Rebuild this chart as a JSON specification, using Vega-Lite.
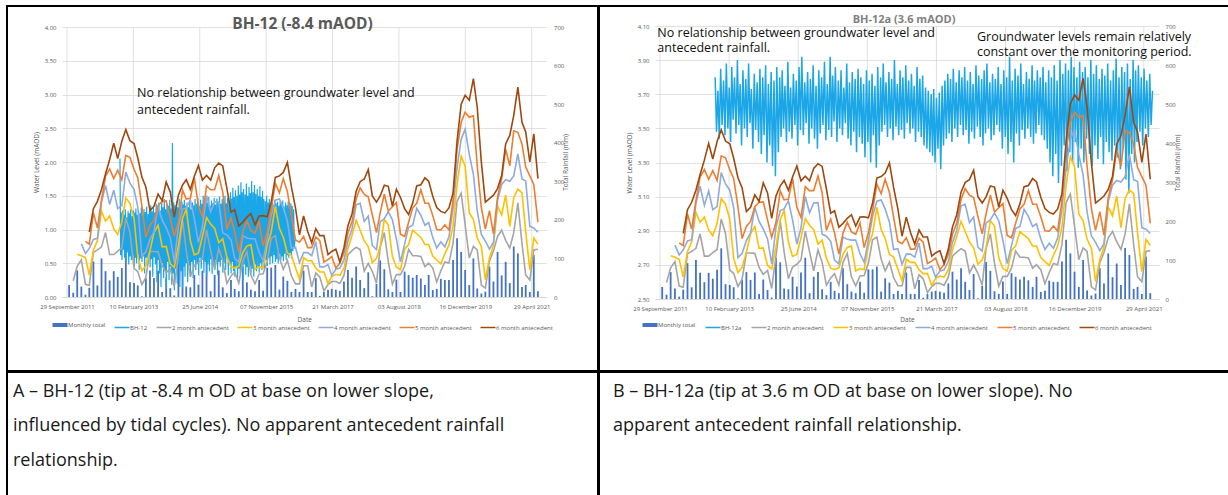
{
"$schema": "https://vega.github.io/schema/vega-lite/v6.json",
"background": "white",
"padding": {"left": 6, "top": 5, "right": 0, "bottom": 0},
"config": {"font": "Open Sans", "view": {"stroke": null}},
"datasets": {
"ticks": [{"d":"2011-09-29"},{"d":"2013-02-10"},{"d":"2014-06-25"},{"d":"2015-11-07"},{"d":"2017-03-21"},{"d":"2018-08-03"},{"d":"2019-12-16"},{"d":"2021-04-29"}],
"rain": [
{"d":"2011-10-15","m":31},
{"d":"2011-11-15","m":11,"a2":42},
{"d":"2011-12-15","m":69,"a2":80,"a3":111},
{"d":"2012-01-15","m":27,"a2":96,"a3":107,"a4":138},
{"d":"2012-02-15","m":6,"a2":33,"a3":102,"a4":113,"a5":144},
{"d":"2012-03-15","m":24,"a2":30,"a3":57,"a4":126,"a5":137,"a6":168},
{"d":"2012-04-15","m":92,"a2":116,"a3":122,"a4":149,"a5":218,"a6":229},
{"d":"2012-05-15","m":30,"a2":122,"a3":146,"a4":152,"a5":179,"a6":248},
{"d":"2012-06-15","m":100,"a2":130,"a3":222,"a4":246,"a5":252,"a6":279},
{"d":"2012-07-15","m":67,"a2":167,"a3":197,"a4":289,"a5":313,"a6":319},
{"d":"2012-08-15","m":43,"a2":110,"a3":210,"a4":240,"a5":332,"a6":356},
{"d":"2012-09-15","m":67,"a2":110,"a3":177,"a4":277,"a5":307,"a6":399},
{"d":"2012-10-15","m":52,"a2":119,"a3":162,"a4":229,"a5":329,"a6":359},
{"d":"2012-11-15","m":75,"a2":127,"a3":194,"a4":237,"a5":304,"a6":404},
{"d":"2012-12-15","m":130,"a2":205,"a3":257,"a4":324,"a5":367,"a6":434},
{"d":"2013-01-15","m":38,"a2":168,"a3":243,"a4":295,"a5":362,"a6":405},
{"d":"2013-02-15","m":36,"a2":74,"a3":204,"a4":279,"a5":331,"a6":398},
{"d":"2013-03-15","m":30,"a2":66,"a3":104,"a4":234,"a5":309,"a6":361},
{"d":"2013-04-15","m":2,"a2":32,"a3":68,"a4":106,"a5":236,"a6":311},
{"d":"2013-05-15","m":49,"a2":51,"a3":81,"a4":117,"a5":155,"a6":285},
{"d":"2013-06-15","m":69,"a2":118,"a3":120,"a4":150,"a5":186,"a6":224},
{"d":"2013-07-15","m":49,"a2":118,"a3":167,"a4":169,"a5":199,"a6":235},
{"d":"2013-08-15","m":68,"a2":117,"a3":186,"a4":235,"a5":237,"a6":267},
{"d":"2013-09-15","m":13,"a2":81,"a3":130,"a4":199,"a5":248,"a6":250},
{"d":"2013-10-15","m":50,"a2":63,"a3":131,"a4":180,"a5":249,"a6":298},
{"d":"2013-11-15","m":23,"a2":73,"a3":86,"a4":154,"a5":203,"a6":272},
{"d":"2013-12-15","m":4,"a2":27,"a3":77,"a4":90,"a5":158,"a6":207},
{"d":"2014-01-15","m":106,"a2":110,"a3":133,"a4":183,"a5":196,"a6":264},
{"d":"2014-02-15","m":94,"a2":200,"a3":204,"a4":227,"a5":277,"a6":290},
{"d":"2014-03-15","m":27,"a2":121,"a3":227,"a4":231,"a5":254,"a6":304},
{"d":"2014-04-15","m":25,"a2":52,"a3":146,"a4":252,"a5":256,"a6":279},
{"d":"2014-05-15","m":57,"a2":82,"a3":109,"a4":203,"a5":309,"a6":313},
{"d":"2014-06-15","m":32,"a2":89,"a3":114,"a4":141,"a5":235,"a6":341},
{"d":"2014-07-15","m":68,"a2":100,"a3":157,"a4":182,"a5":209,"a6":303},
{"d":"2014-08-15","m":106,"a2":174,"a3":206,"a4":263,"a5":288,"a6":315},
{"d":"2014-09-15","m":15,"a2":121,"a3":189,"a4":221,"a5":278,"a6":303},
{"d":"2014-10-15","m":57,"a2":72,"a3":178,"a4":246,"a5":278,"a6":335},
{"d":"2014-11-15","m":69,"a2":126,"a3":141,"a4":247,"a5":315,"a6":347},
{"d":"2014-12-15","m":25,"a2":94,"a3":151,"a4":166,"a5":272,"a6":340},
{"d":"2015-01-15","m":10,"a2":35,"a3":104,"a4":161,"a5":176,"a6":282},
{"d":"2015-02-15","m":44,"a2":54,"a3":79,"a4":148,"a5":205,"a6":220},
{"d":"2015-03-15","m":21,"a2":65,"a3":75,"a4":100,"a5":169,"a6":226},
{"d":"2015-04-15","m":15,"a2":36,"a3":80,"a4":90,"a5":115,"a6":184},
{"d":"2015-05-15","m":79,"a2":94,"a3":115,"a4":159,"a5":169,"a6":194},
{"d":"2015-06-15","m":38,"a2":117,"a3":132,"a4":153,"a5":197,"a6":207},
{"d":"2015-07-15","m":19,"a2":57,"a3":136,"a4":151,"a5":172,"a6":216},
{"d":"2015-08-15","m":15,"a2":34,"a3":72,"a4":151,"a5":166,"a6":187},
{"d":"2015-09-15","m":44,"a2":59,"a3":78,"a4":116,"a5":195,"a6":210},
{"d":"2015-10-15","m":16,"a2":60,"a3":75,"a4":94,"a5":132,"a6":211},
{"d":"2015-11-15","m":76,"a2":92,"a3":136,"a4":151,"a5":170,"a6":208},
{"d":"2015-12-15","m":76,"a2":152,"a3":168,"a4":212,"a5":227,"a6":246},
{"d":"2016-01-15","m":83,"a2":159,"a3":235,"a4":251,"a5":295,"a6":310},
{"d":"2016-02-15","m":19,"a2":102,"a3":178,"a4":254,"a5":270,"a6":314},
{"d":"2016-03-15","m":53,"a2":72,"a3":155,"a4":231,"a5":307,"a6":323},
{"d":"2016-04-15","m":42,"a2":95,"a3":114,"a4":197,"a5":273,"a6":349},
{"d":"2016-05-15","m":13,"a2":55,"a3":108,"a4":127,"a5":210,"a6":286},
{"d":"2016-06-15","m":21,"a2":34,"a3":76,"a4":129,"a5":148,"a6":231},
{"d":"2016-07-15","m":13,"a2":34,"a3":47,"a4":89,"a5":142,"a6":161},
{"d":"2016-08-15","m":68,"a2":81,"a3":102,"a4":115,"a5":157,"a6":210},
{"d":"2016-09-15","m":13,"a2":81,"a3":94,"a4":115,"a5":128,"a6":170},
{"d":"2016-10-15","m":13,"a2":26,"a3":94,"a4":107,"a5":128,"a6":141},
{"d":"2016-11-15","m":49,"a2":62,"a3":75,"a4":143,"a5":156,"a6":177},
{"d":"2016-12-15","m":3,"a2":52,"a3":65,"a4":78,"a5":146,"a6":159},
{"d":"2017-01-15","m":13,"a2":16,"a3":65,"a4":78,"a5":91,"a6":159},
{"d":"2017-02-15","m":19,"a2":32,"a3":35,"a4":84,"a5":97,"a6":110},
{"d":"2017-03-15","m":21,"a2":40,"a3":53,"a4":56,"a5":105,"a6":118},
{"d":"2017-04-15","m":19,"a2":40,"a3":59,"a4":72,"a5":75,"a6":124},
{"d":"2017-05-15","m":16,"a2":35,"a3":56,"a4":75,"a5":88,"a6":91},
{"d":"2017-06-15","m":40,"a2":56,"a3":75,"a4":96,"a5":115,"a6":128},
{"d":"2017-07-15","m":70,"a2":110,"a3":126,"a4":145,"a5":166,"a6":185},
{"d":"2017-08-15","m":50,"a2":120,"a3":160,"a4":176,"a5":195,"a6":216},
{"d":"2017-09-15","m":79,"a2":129,"a3":199,"a4":239,"a5":255,"a6":274},
{"d":"2017-10-15","m":44,"a2":123,"a3":173,"a4":243,"a5":283,"a6":299},
{"d":"2017-11-15","m":23,"a2":67,"a3":146,"a4":196,"a5":266,"a6":306},
{"d":"2017-12-15","m":64,"a2":87,"a3":131,"a4":210,"a5":260,"a6":330},
{"d":"2018-01-15","m":2,"a2":66,"a3":89,"a4":133,"a5":212,"a6":262},
{"d":"2018-02-15","m":34,"a2":36,"a3":100,"a4":123,"a5":167,"a6":246},
{"d":"2018-03-15","m":95,"a2":129,"a3":131,"a4":195,"a5":218,"a6":262},
{"d":"2018-04-15","m":72,"a2":167,"a3":201,"a4":203,"a5":267,"a6":290},
{"d":"2018-05-15","m":20,"a2":92,"a3":187,"a4":221,"a5":223,"a6":287},
{"d":"2018-06-15","m":13,"a2":33,"a3":105,"a4":200,"a5":234,"a6":236},
{"d":"2018-07-15","m":45,"a2":58,"a3":78,"a4":150,"a5":245,"a6":279},
{"d":"2018-08-15","m":13,"a2":58,"a3":71,"a4":91,"a5":163,"a6":258},
{"d":"2018-09-15","m":66,"a2":79,"a3":124,"a4":137,"a5":157,"a6":229},
{"d":"2018-10-15","m":57,"a2":123,"a3":136,"a4":181,"a5":194,"a6":214},
{"d":"2018-11-15","m":50,"a2":107,"a3":173,"a4":186,"a5":231,"a6":244},
{"d":"2018-12-15","m":57,"a2":107,"a3":164,"a4":230,"a5":243,"a6":288},
{"d":"2019-01-15","m":48,"a2":105,"a3":155,"a4":212,"a5":278,"a6":291},
{"d":"2019-02-15","m":31,"a2":79,"a3":136,"a4":186,"a5":243,"a6":309},
{"d":"2019-03-15","m":57,"a2":88,"a3":136,"a4":193,"a5":243,"a6":300},
{"d":"2019-04-15","m":18,"a2":75,"a3":106,"a4":154,"a5":211,"a6":261},
{"d":"2019-05-15","m":21,"a2":39,"a3":96,"a4":127,"a5":175,"a6":232},
{"d":"2019-06-15","m":47,"a2":68,"a3":86,"a4":143,"a5":174,"a6":222},
{"d":"2019-07-15","m":44,"a2":91,"a3":112,"a4":130,"a5":187,"a6":218},
{"d":"2019-08-15","m":44,"a2":88,"a3":135,"a4":156,"a5":174,"a6":231},
{"d":"2019-09-15","m":96,"a2":140,"a3":184,"a4":231,"a5":252,"a6":270},
{"d":"2019-10-15","m":152,"a2":248,"a3":292,"a4":336,"a5":383,"a6":404},
{"d":"2019-11-15","m":117,"a2":269,"a3":365,"a4":409,"a5":453,"a6":500},
{"d":"2019-12-15","m":70,"a2":187,"a3":339,"a4":435,"a5":479,"a6":523},
{"d":"2020-01-15","m":31,"a2":101,"a3":218,"a4":370,"a5":466,"a6":510},
{"d":"2020-02-15","m":100,"a2":131,"a3":201,"a4":318,"a5":470,"a6":566},
{"d":"2020-03-15","m":22,"a2":122,"a3":153,"a4":223,"a5":340,"a6":492},
{"d":"2020-04-15","m":9,"a2":31,"a3":131,"a4":162,"a5":232,"a6":349},
{"d":"2020-05-15","m":14,"a2":23,"a3":45,"a4":145,"a5":176,"a6":246},
{"d":"2020-06-15","m":79,"a2":93,"a3":102,"a4":124,"a5":224,"a6":255},
{"d":"2020-07-15","m":40,"a2":119,"a3":133,"a4":142,"a5":164,"a6":264},
{"d":"2020-08-15","m":117,"a2":157,"a3":236,"a4":250,"a5":259,"a6":281},
{"d":"2020-09-15","m":56,"a2":173,"a3":213,"a4":292,"a5":306,"a6":315},
{"d":"2020-10-15","m":91,"a2":147,"a3":264,"a4":304,"a5":383,"a6":397},
{"d":"2020-11-15","m":36,"a2":127,"a3":183,"a4":300,"a5":340,"a6":419},
{"d":"2020-12-15","m":131,"a2":167,"a3":258,"a4":314,"a5":431,"a6":471},
{"d":"2021-01-15","m":113,"a2":244,"a3":280,"a4":371,"a5":427,"a6":544},
{"d":"2021-02-15","m":26,"a2":139,"a3":270,"a4":306,"a5":397,"a6":453},
{"d":"2021-03-15","m":31,"a2":57,"a3":170,"a4":301,"a5":337,"a6":428},
{"d":"2021-04-15","m":13,"a2":44,"a3":70,"a4":183,"a5":314,"a6":350},
{"d":"2021-05-15","m":109,"a2":122,"a3":153,"a4":179,"a5":292,"a6":423},
{"d":"2021-06-15","m":15,"a2":124,"a3":137,"a4":168,"a5":194,"a6":307}
],
"bh12": [
{"d":"2012-11-01","v":2.05},{"d":"2012-11-06","v":0.62},{"d":"2012-11-11","v":1.25},{"d":"2012-11-16","v":0.55},{"d":"2012-11-21","v":1.28},{"d":"2012-11-26","v":0.70},
{"d":"2012-12-01","v":1.22},{"d":"2012-12-06","v":0.58},{"d":"2012-12-11","v":1.30},{"d":"2012-12-16","v":0.52},{"d":"2012-12-21","v":1.18},{"d":"2012-12-26","v":0.66},
{"d":"2013-01-01","v":1.27},{"d":"2013-01-06","v":0.48},{"d":"2013-01-11","v":1.24},{"d":"2013-01-16","v":0.60},{"d":"2013-01-21","v":1.30},{"d":"2013-01-26","v":0.55},
{"d":"2013-02-01","v":1.20},{"d":"2013-02-06","v":0.62},{"d":"2013-02-11","v":1.28},{"d":"2013-02-16","v":0.45},{"d":"2013-02-21","v":1.25},{"d":"2013-02-26","v":0.58},
{"d":"2013-03-01","v":1.31},{"d":"2013-03-06","v":0.50},{"d":"2013-03-11","v":1.22},{"d":"2013-03-16","v":0.63},{"d":"2013-03-21","v":1.29},{"d":"2013-03-26","v":0.40},
{"d":"2013-04-01","v":1.24},{"d":"2013-04-06","v":0.57},{"d":"2013-04-11","v":1.33},{"d":"2013-04-16","v":0.52},{"d":"2013-04-21","v":1.21},{"d":"2013-04-26","v":0.60},
{"d":"2013-05-01","v":1.30},{"d":"2013-05-06","v":0.35},{"d":"2013-05-11","v":1.26},{"d":"2013-05-16","v":0.58},{"d":"2013-05-21","v":1.34},{"d":"2013-05-26","v":0.50},
{"d":"2013-06-01","v":1.23},{"d":"2013-06-06","v":0.61},{"d":"2013-06-11","v":1.29},{"d":"2013-06-16","v":0.44},{"d":"2013-06-21","v":1.36},{"d":"2013-06-26","v":0.56},
{"d":"2013-07-01","v":1.27},{"d":"2013-07-06","v":0.30},{"d":"2013-07-11","v":1.32},{"d":"2013-07-16","v":0.59},{"d":"2013-07-21","v":1.25},{"d":"2013-07-26","v":0.48},
{"d":"2013-08-01","v":1.38},{"d":"2013-08-06","v":0.22},{"d":"2013-08-11","v":1.30},{"d":"2013-08-16","v":0.55},{"d":"2013-08-21","v":1.40},{"d":"2013-08-26","v":0.35},
{"d":"2013-09-01","v":1.28},{"d":"2013-09-06","v":0.15},{"d":"2013-09-11","v":1.42},{"d":"2013-09-16","v":0.50},{"d":"2013-09-21","v":1.33},{"d":"2013-09-26","v":0.28},
{"d":"2013-10-01","v":1.45},{"d":"2013-10-06","v":0.40},{"d":"2013-10-11","v":1.30},{"d":"2013-10-16","v":0.12},{"d":"2013-10-21","v":1.38},{"d":"2013-10-26","v":0.52},
{"d":"2013-11-01","v":1.35},{"d":"2013-11-06","v":0.25},{"d":"2013-11-11","v":1.44},{"d":"2013-11-16","v":0.45},{"d":"2013-11-21","v":1.31},{"d":"2013-11-26","v":0.18},
{"d":"2013-12-01","v":2.28},{"d":"2013-12-06","v":0.35},{"d":"2013-12-11","v":1.40},{"d":"2013-12-16","v":0.10},{"d":"2013-12-21","v":1.36},{"d":"2013-12-26","v":0.42},
{"d":"2014-01-01","v":1.42},{"d":"2014-01-06","v":0.20},{"d":"2014-01-11","v":1.33},{"d":"2014-01-16","v":0.48},{"d":"2014-01-21","v":1.45},{"d":"2014-01-26","v":0.15},
{"d":"2014-02-01","v":1.30},{"d":"2014-02-06","v":0.38},{"d":"2014-02-11","v":1.41},{"d":"2014-02-16","v":0.12},{"d":"2014-02-21","v":1.37},{"d":"2014-02-26","v":0.45},
{"d":"2014-03-01","v":1.44},{"d":"2014-03-06","v":0.30},{"d":"2014-03-11","v":1.35},{"d":"2014-03-16","v":0.50},{"d":"2014-03-21","v":1.40},{"d":"2014-03-26","v":0.22},
{"d":"2014-04-01","v":1.33},{"d":"2014-04-06","v":0.46},{"d":"2014-04-11","v":1.43},{"d":"2014-04-16","v":0.35},{"d":"2014-04-21","v":1.30},{"d":"2014-04-26","v":0.52},
{"d":"2014-05-01","v":1.40},{"d":"2014-05-06","v":0.28},{"d":"2014-05-11","v":1.36},{"d":"2014-05-16","v":0.55},{"d":"2014-05-21","v":1.45},{"d":"2014-05-26","v":0.40},
{"d":"2014-06-01","v":1.38},{"d":"2014-06-06","v":0.50},{"d":"2014-06-11","v":1.47},{"d":"2014-06-16","v":0.32},{"d":"2014-06-21","v":1.35},{"d":"2014-06-26","v":0.58},
{"d":"2014-07-01","v":1.44},{"d":"2014-07-06","v":0.42},{"d":"2014-07-11","v":1.38},{"d":"2014-07-16","v":0.55},{"d":"2014-07-21","v":1.50},{"d":"2014-07-26","v":0.36},
{"d":"2014-08-01","v":1.36},{"d":"2014-08-06","v":0.52},{"d":"2014-08-11","v":1.45},{"d":"2014-08-16","v":0.30},{"d":"2014-08-21","v":1.40},{"d":"2014-08-26","v":0.48},
{"d":"2014-09-01","v":1.48},{"d":"2014-09-06","v":0.38},{"d":"2014-09-11","v":1.35},{"d":"2014-09-16","v":0.56},{"d":"2014-09-21","v":1.43},{"d":"2014-09-26","v":0.34},
{"d":"2014-10-01","v":1.39},{"d":"2014-10-06","v":0.50},{"d":"2014-10-11","v":1.47},{"d":"2014-10-16","v":0.40},{"d":"2014-10-21","v":1.37},{"d":"2014-10-26","v":0.55},
{"d":"2014-11-01","v":1.46},{"d":"2014-11-06","v":0.33},{"d":"2014-11-11","v":1.41},{"d":"2014-11-16","v":0.52},{"d":"2014-11-21","v":1.49},{"d":"2014-11-26","v":0.45},
{"d":"2014-12-01","v":1.38},{"d":"2014-12-06","v":0.55},{"d":"2014-12-11","v":1.45},{"d":"2014-12-16","v":0.36},{"d":"2014-12-21","v":1.42},{"d":"2014-12-26","v":0.50},
{"d":"2015-01-01","v":1.50},{"d":"2015-01-06","v":0.40},{"d":"2015-01-11","v":1.39},{"d":"2015-01-16","v":0.58},{"d":"2015-01-21","v":1.47},{"d":"2015-01-26","v":0.32},
{"d":"2015-02-01","v":1.43},{"d":"2015-02-06","v":0.48},{"d":"2015-02-11","v":1.55},{"d":"2015-02-16","v":0.35},{"d":"2015-02-21","v":1.46},{"d":"2015-02-26","v":0.52},
{"d":"2015-03-01","v":1.62},{"d":"2015-03-06","v":0.38},{"d":"2015-03-11","v":1.48},{"d":"2015-03-16","v":0.30},{"d":"2015-03-21","v":1.58},{"d":"2015-03-26","v":0.45},
{"d":"2015-04-01","v":1.50},{"d":"2015-04-06","v":0.28},{"d":"2015-04-11","v":1.65},{"d":"2015-04-16","v":0.42},{"d":"2015-04-21","v":1.52},{"d":"2015-04-26","v":0.35},
{"d":"2015-05-01","v":1.70},{"d":"2015-05-06","v":0.40},{"d":"2015-05-11","v":1.55},{"d":"2015-05-16","v":0.25},{"d":"2015-05-21","v":1.60},{"d":"2015-05-26","v":0.48},
{"d":"2015-06-01","v":1.52},{"d":"2015-06-06","v":0.33},{"d":"2015-06-11","v":1.68},{"d":"2015-06-16","v":0.44},{"d":"2015-06-21","v":1.50},{"d":"2015-06-26","v":0.30},
{"d":"2015-07-01","v":1.63},{"d":"2015-07-06","v":0.46},{"d":"2015-07-11","v":1.54},{"d":"2015-07-16","v":0.35},{"d":"2015-07-21","v":1.72},{"d":"2015-07-26","v":0.42},
{"d":"2015-08-01","v":1.55},{"d":"2015-08-06","v":0.30},{"d":"2015-08-11","v":1.66},{"d":"2015-08-16","v":0.48},{"d":"2015-08-21","v":1.53},{"d":"2015-08-26","v":0.38},
{"d":"2015-09-01","v":1.60},{"d":"2015-09-06","v":0.45},{"d":"2015-09-11","v":1.50},{"d":"2015-09-16","v":0.36},{"d":"2015-09-21","v":1.64},{"d":"2015-09-26","v":0.50},
{"d":"2015-10-01","v":1.48},{"d":"2015-10-06","v":0.40},{"d":"2015-10-11","v":1.57},{"d":"2015-10-16","v":0.52},{"d":"2015-10-21","v":1.45},{"d":"2015-10-26","v":0.43},
{"d":"2015-11-01","v":1.42},{"d":"2015-11-06","v":0.55},{"d":"2015-11-11","v":1.50},{"d":"2015-11-16","v":0.46},{"d":"2015-11-21","v":1.40},{"d":"2015-11-26","v":0.58},
{"d":"2015-12-01","v":1.45},{"d":"2015-12-06","v":0.48},{"d":"2015-12-11","v":1.38},{"d":"2015-12-16","v":0.60},{"d":"2015-12-21","v":1.43},{"d":"2015-12-26","v":0.50},
{"d":"2016-01-01","v":1.36},{"d":"2016-01-06","v":0.62},{"d":"2016-01-11","v":1.44},{"d":"2016-01-16","v":0.52},{"d":"2016-01-21","v":1.39},{"d":"2016-01-26","v":0.56},
{"d":"2016-02-01","v":1.41},{"d":"2016-02-06","v":0.50},{"d":"2016-02-11","v":1.35},{"d":"2016-02-16","v":0.63},{"d":"2016-02-21","v":1.42},{"d":"2016-02-26","v":0.55},
{"d":"2016-03-01","v":1.37},{"d":"2016-03-06","v":0.60},{"d":"2016-03-11","v":1.43},{"d":"2016-03-16","v":0.53},{"d":"2016-03-21","v":1.34},{"d":"2016-03-26","v":0.64},
{"d":"2016-04-01","v":1.40},{"d":"2016-04-06","v":0.55},{"d":"2016-04-11","v":1.36},{"d":"2016-04-16","v":0.62},{"d":"2016-04-21","v":1.41},{"d":"2016-04-26","v":0.58},
{"d":"2016-05-01","v":1.33},{"d":"2016-05-06","v":0.65},{"d":"2016-05-11","v":1.39},{"d":"2016-05-16","v":0.57},{"d":"2016-05-21","v":1.35},{"d":"2016-05-26","v":0.68},
{"d":"2016-06-01","v":1.30},{"d":"2016-06-06","v":0.72},{"d":"2016-06-11","v":0.85}
],
"bh12a": [
{"d":"2012-11-01","v":3.80},{"d":"2012-11-11","v":3.48},{"d":"2012-11-21","v":3.72},
{"d":"2012-12-01","v":3.44},{"d":"2012-12-11","v":3.85},{"d":"2012-12-21","v":3.52},
{"d":"2013-01-01","v":3.78},{"d":"2013-01-11","v":3.46},{"d":"2013-01-21","v":3.88},
{"d":"2013-02-01","v":3.50},{"d":"2013-02-11","v":3.74},{"d":"2013-02-21","v":3.42},
{"d":"2013-03-01","v":3.86},{"d":"2013-03-11","v":3.55},{"d":"2013-03-21","v":3.80},
{"d":"2013-04-01","v":3.47},{"d":"2013-04-11","v":3.90},{"d":"2013-04-21","v":3.52},
{"d":"2013-05-01","v":3.76},{"d":"2013-05-11","v":3.40},{"d":"2013-05-21","v":3.84},
{"d":"2013-06-01","v":3.50},{"d":"2013-06-11","v":3.79},{"d":"2013-06-21","v":3.45},
{"d":"2013-07-01","v":3.88},{"d":"2013-07-11","v":3.53},{"d":"2013-07-21","v":3.73},
{"d":"2013-08-01","v":3.38},{"d":"2013-08-11","v":3.82},{"d":"2013-08-21","v":3.49},
{"d":"2013-09-01","v":3.77},{"d":"2013-09-11","v":3.42},{"d":"2013-09-21","v":3.85},
{"d":"2013-10-01","v":3.35},{"d":"2013-10-11","v":3.80},{"d":"2013-10-21","v":3.46},
{"d":"2013-11-01","v":3.87},{"d":"2013-11-11","v":3.30},{"d":"2013-11-21","v":3.76},
{"d":"2013-12-01","v":3.40},{"d":"2013-12-11","v":3.83},{"d":"2013-12-21","v":3.28},
{"d":"2014-01-01","v":3.78},{"d":"2014-01-11","v":3.22},{"d":"2014-01-21","v":3.86},
{"d":"2014-02-01","v":3.36},{"d":"2014-02-11","v":3.80},{"d":"2014-02-21","v":3.45},
{"d":"2014-03-01","v":3.84},{"d":"2014-03-11","v":3.50},{"d":"2014-03-21","v":3.75},
{"d":"2014-04-01","v":3.42},{"d":"2014-04-11","v":3.89},{"d":"2014-04-21","v":3.48},
{"d":"2014-05-01","v":3.74},{"d":"2014-05-11","v":3.44},{"d":"2014-05-21","v":3.82},
{"d":"2014-06-01","v":3.52},{"d":"2014-06-11","v":3.78},{"d":"2014-06-21","v":3.40},
{"d":"2014-07-01","v":3.86},{"d":"2014-07-11","v":3.49},{"d":"2014-07-21","v":3.92},
{"d":"2014-08-01","v":3.46},{"d":"2014-08-11","v":3.77},{"d":"2014-08-21","v":3.53},
{"d":"2014-09-01","v":3.83},{"d":"2014-09-11","v":3.41},{"d":"2014-09-21","v":3.79},
{"d":"2014-10-01","v":3.50},{"d":"2014-10-11","v":3.87},{"d":"2014-10-21","v":3.44},
{"d":"2014-11-01","v":3.75},{"d":"2014-11-11","v":3.38},{"d":"2014-11-21","v":3.84},
{"d":"2014-12-01","v":3.47},{"d":"2014-12-11","v":3.80},{"d":"2014-12-21","v":3.52},
{"d":"2015-01-01","v":3.89},{"d":"2015-01-11","v":3.43},{"d":"2015-01-21","v":3.76},
{"d":"2015-02-01","v":3.49},{"d":"2015-02-11","v":3.92},{"d":"2015-02-21","v":3.45},
{"d":"2015-03-01","v":3.81},{"d":"2015-03-11","v":3.54},{"d":"2015-03-21","v":3.86},
{"d":"2015-04-01","v":3.42},{"d":"2015-04-11","v":3.78},{"d":"2015-04-21","v":3.50},
{"d":"2015-05-01","v":3.84},{"d":"2015-05-11","v":3.46},{"d":"2015-05-21","v":3.74},
{"d":"2015-06-01","v":3.53},{"d":"2015-06-11","v":3.88},{"d":"2015-06-21","v":3.44},
{"d":"2015-07-01","v":3.77},{"d":"2015-07-11","v":3.40},{"d":"2015-07-21","v":3.83},
{"d":"2015-08-01","v":3.48},{"d":"2015-08-11","v":3.79},{"d":"2015-08-21","v":3.36},
{"d":"2015-09-01","v":3.85},{"d":"2015-09-11","v":3.45},{"d":"2015-09-21","v":3.80},
{"d":"2015-10-01","v":3.41},{"d":"2015-10-11","v":3.76},{"d":"2015-10-21","v":3.33},
{"d":"2015-11-01","v":3.84},{"d":"2015-11-11","v":3.42},{"d":"2015-11-21","v":3.78},
{"d":"2015-12-01","v":3.30},{"d":"2015-12-11","v":3.82},{"d":"2015-12-21","v":3.46},
{"d":"2016-01-01","v":3.75},{"d":"2016-01-11","v":3.27},{"d":"2016-01-21","v":3.86},
{"d":"2016-02-01","v":3.40},{"d":"2016-02-11","v":3.80},{"d":"2016-02-21","v":3.48},
{"d":"2016-03-01","v":3.88},{"d":"2016-03-11","v":3.52},{"d":"2016-03-21","v":3.77},
{"d":"2016-04-01","v":3.45},{"d":"2016-04-11","v":3.83},{"d":"2016-04-21","v":3.50},
{"d":"2016-05-01","v":3.79},{"d":"2016-05-11","v":3.43},{"d":"2016-05-21","v":3.90},
{"d":"2016-06-01","v":3.51},{"d":"2016-06-11","v":3.76},{"d":"2016-06-21","v":3.46},
{"d":"2016-07-01","v":3.84},{"d":"2016-07-11","v":3.49},{"d":"2016-07-21","v":3.80},
{"d":"2016-08-01","v":3.44},{"d":"2016-08-11","v":3.87},{"d":"2016-08-21","v":3.53},
{"d":"2016-09-01","v":3.78},{"d":"2016-09-11","v":3.47},{"d":"2016-09-21","v":3.82},
{"d":"2016-10-01","v":3.50},{"d":"2016-10-11","v":3.75},{"d":"2016-10-21","v":3.42},
{"d":"2016-11-01","v":3.86},{"d":"2016-11-11","v":3.48},{"d":"2016-11-21","v":3.79},
{"d":"2016-12-01","v":3.45},{"d":"2016-12-11","v":3.81},{"d":"2016-12-21","v":3.40},
{"d":"2017-01-01","v":3.74},{"d":"2017-01-11","v":3.38},{"d":"2017-01-21","v":3.72},
{"d":"2017-02-01","v":3.36},{"d":"2017-02-11","v":3.70},{"d":"2017-02-21","v":3.34},
{"d":"2017-03-01","v":3.73},{"d":"2017-03-11","v":3.30},{"d":"2017-03-21","v":3.68},
{"d":"2017-04-01","v":3.38},{"d":"2017-04-11","v":3.71},{"d":"2017-04-21","v":3.26},
{"d":"2017-05-01","v":3.75},{"d":"2017-05-11","v":3.40},{"d":"2017-05-21","v":3.78},
{"d":"2017-06-01","v":3.44},{"d":"2017-06-11","v":3.82},{"d":"2017-06-21","v":3.47},
{"d":"2017-07-01","v":3.79},{"d":"2017-07-11","v":3.42},{"d":"2017-07-21","v":3.85},
{"d":"2017-08-01","v":3.50},{"d":"2017-08-11","v":3.77},{"d":"2017-08-21","v":3.45},
{"d":"2017-09-01","v":3.84},{"d":"2017-09-11","v":3.52},{"d":"2017-09-21","v":3.80},
{"d":"2017-10-01","v":3.46},{"d":"2017-10-11","v":3.86},{"d":"2017-10-21","v":3.49},
{"d":"2017-11-01","v":3.78},{"d":"2017-11-11","v":3.41},{"d":"2017-11-21","v":3.83},
{"d":"2017-12-01","v":3.48},{"d":"2017-12-11","v":3.76},{"d":"2017-12-21","v":3.44},
{"d":"2018-01-01","v":3.87},{"d":"2018-01-11","v":3.51},{"d":"2018-01-21","v":3.81},
{"d":"2018-02-01","v":3.45},{"d":"2018-02-11","v":3.79},{"d":"2018-02-21","v":3.40},
{"d":"2018-03-01","v":3.84},{"d":"2018-03-11","v":3.47},{"d":"2018-03-21","v":3.88},
{"d":"2018-04-01","v":3.50},{"d":"2018-04-11","v":3.77},{"d":"2018-04-21","v":3.43},
{"d":"2018-05-01","v":3.82},{"d":"2018-05-11","v":3.46},{"d":"2018-05-21","v":3.79},
{"d":"2018-06-01","v":3.52},{"d":"2018-06-11","v":3.86},{"d":"2018-06-21","v":3.48},
{"d":"2018-07-01","v":3.76},{"d":"2018-07-11","v":3.38},{"d":"2018-07-21","v":3.84},
{"d":"2018-08-01","v":3.45},{"d":"2018-08-11","v":3.80},{"d":"2018-08-21","v":3.35},
{"d":"2018-09-01","v":3.92},{"d":"2018-09-11","v":3.42},{"d":"2018-09-21","v":3.78},
{"d":"2018-10-01","v":3.30},{"d":"2018-10-11","v":3.85},{"d":"2018-10-21","v":3.47},
{"d":"2018-11-01","v":3.81},{"d":"2018-11-11","v":3.40},{"d":"2018-11-21","v":3.88},
{"d":"2018-12-01","v":3.49},{"d":"2018-12-11","v":3.76},{"d":"2018-12-21","v":3.44},
{"d":"2019-01-01","v":3.83},{"d":"2019-01-11","v":3.50},{"d":"2019-01-21","v":3.79},
{"d":"2019-02-01","v":3.45},{"d":"2019-02-11","v":3.87},{"d":"2019-02-21","v":3.41},
{"d":"2019-03-01","v":3.78},{"d":"2019-03-11","v":3.47},{"d":"2019-03-21","v":3.84},
{"d":"2019-04-01","v":3.52},{"d":"2019-04-11","v":3.80},{"d":"2019-04-21","v":3.46},
{"d":"2019-05-01","v":3.86},{"d":"2019-05-11","v":3.43},{"d":"2019-05-21","v":3.77},
{"d":"2019-06-01","v":3.38},{"d":"2019-06-11","v":3.84},{"d":"2019-06-21","v":3.30},
{"d":"2019-07-01","v":3.80},{"d":"2019-07-11","v":3.22},{"d":"2019-07-21","v":3.87},
{"d":"2019-08-01","v":3.35},{"d":"2019-08-11","v":3.78},{"d":"2019-08-21","v":3.18},
{"d":"2019-09-01","v":3.90},{"d":"2019-09-11","v":3.28},{"d":"2019-09-21","v":3.82},
{"d":"2019-10-01","v":3.40},{"d":"2019-10-11","v":3.88},{"d":"2019-10-21","v":3.25},
{"d":"2019-11-01","v":3.84},{"d":"2019-11-11","v":3.36},{"d":"2019-11-21","v":3.92},
{"d":"2019-12-01","v":3.30},{"d":"2019-12-11","v":3.86},{"d":"2019-12-21","v":3.42},
{"d":"2020-01-01","v":3.80},{"d":"2020-01-11","v":3.27},{"d":"2020-01-21","v":3.89},
{"d":"2020-02-01","v":3.38},{"d":"2020-02-11","v":3.83},{"d":"2020-02-21","v":3.30},
{"d":"2020-03-01","v":3.86},{"d":"2020-03-11","v":3.44},{"d":"2020-03-21","v":3.80},
{"d":"2020-04-01","v":3.35},{"d":"2020-04-11","v":3.90},{"d":"2020-04-21","v":3.28},
{"d":"2020-05-01","v":3.82},{"d":"2020-05-11","v":3.40},{"d":"2020-05-21","v":3.87},
{"d":"2020-06-01","v":3.32},{"d":"2020-06-11","v":3.79},{"d":"2020-06-21","v":3.45},
{"d":"2020-07-01","v":3.85},{"d":"2020-07-11","v":3.29},{"d":"2020-07-21","v":3.81},
{"d":"2020-08-01","v":3.42},{"d":"2020-08-11","v":3.88},{"d":"2020-08-21","v":3.36},
{"d":"2020-09-01","v":3.78},{"d":"2020-09-11","v":3.31},{"d":"2020-09-21","v":3.84},
{"d":"2020-10-01","v":3.40},{"d":"2020-10-11","v":3.91},{"d":"2020-10-21","v":3.33},
{"d":"2020-11-01","v":3.80},{"d":"2020-11-11","v":3.26},{"d":"2020-11-21","v":3.86},
{"d":"2020-12-01","v":3.38},{"d":"2020-12-11","v":3.83},{"d":"2020-12-21","v":3.20},
{"d":"2021-01-01","v":3.88},{"d":"2021-01-11","v":3.12},{"d":"2021-01-21","v":3.79},
{"d":"2021-02-01","v":3.35},{"d":"2021-02-11","v":3.90},{"d":"2021-02-21","v":3.30},
{"d":"2021-03-01","v":3.84},{"d":"2021-03-11","v":3.42},{"d":"2021-03-21","v":3.87},
{"d":"2021-04-01","v":3.48},{"d":"2021-04-11","v":3.80},{"d":"2021-04-21","v":3.40},
{"d":"2021-05-01","v":3.85},{"d":"2021-05-11","v":3.50},{"d":"2021-05-21","v":3.78},
{"d":"2021-06-01","v":3.45},{"d":"2021-06-11","v":3.82},{"d":"2021-06-21","v":3.52},
{"d":"2021-07-01","v":3.72}
],
"annA": [
{"d":"2013-03-10","v":3.02,"t":"No relationship between groundwater level and"},
{"d":"2013-03-10","v":2.77,"t":"antecedent rainfall."}
],
"annB": [
{"d":"2011-09-10","v":4.059,"t":"No relationship between groundwater level and"},
{"d":"2011-09-10","v":3.971,"t":"antecedent rainfall."},
{"d":"2018-01-08","v":4.036,"t":"Groundwater levels remain relatively"},
{"d":"2018-01-08","v":3.948,"t":"constant over the monitoring period."}
],
"capA": [
{"line":1,"t":"A – BH-12 (tip at -8.4 m OD at base on lower slope,"},
{"line":2,"t":"influenced by tidal cycles). No apparent antecedent rainfall"},
{"line":3,"t":"relationship."}
],
"capB": [
{"line":1,"t":"B – BH-12a (tip at 3.6 m OD at base on lower slope). No"},
{"line":2,"t":"apparent antecedent rainfall relationship."}
]
},
"spacing": -2,
"vconcat": [
{
"spacing": -2,
"resolve": {"scale": {"color": "independent", "x": "independent", "y": "independent"}, "legend": {"color": "independent"}, "axis": {"x": "independent", "y": "independent"}},
"hconcat": [
{
"width": 591, "height": 365,
"view": {"stroke": "#000000", "strokeWidth": 2},
"title": {"text": "BH-12 (-8.4 mAOD)", "fontSize": 15.5, "font": "Open Sans", "fontWeight": "bold", "color": "#595959", "anchor": "middle", "frame": "group", "baseline": "middle", "offset": -33},
"layer": [
{"data": {"name": "ticks"}, "mark": {"type": "rule", "color": "#D9D9D9", "strokeWidth": 0.8},
 "encoding": {
  "x": {"field": "d", "type": "temporal",
   "scale": {"type": "utc", "domain": [{"year": 2011, "month": 9, "date": 29, "utc": true}, {"year": 2021, "month": 7, "date": 12, "utc": true}], "range": [55, 539.5]},
   "axis": {"title": "Date", "values": [{"year":2011,"month":9,"date":29,"utc":true},{"year":2013,"month":2,"date":10,"utc":true},{"year":2014,"month":6,"date":25,"utc":true},{"year":2015,"month":11,"date":7,"utc":true},{"year":2017,"month":3,"date":21,"utc":true},{"year":2018,"month":8,"date":3,"utc":true},{"year":2019,"month":12,"date":16,"utc":true},{"year":2021,"month":4,"date":29,"utc":true}],
    "format": "%d %B %Y", "grid": false, "ticks": false, "domain": true, "domainColor": "#D9D9D9", "labelFontSize": 6, "labelColor": "#595959", "labelFont": "Open Sans", "labelPadding": 6, "labelOverlap": false, "labelFlush": false, "titleFontSize": 6.5, "titleColor": "#595959", "titleFont": "Open Sans", "titleFontWeight": "normal", "titlePadding": 7, "offset": -74}},
  "y": {"datum": 0, "type": "quantitative", "scale": {"domain": [0, 1], "range": [291, 21]}, "axis": null},
  "y2": {"datum": 1}
 }},
{"data": {"name": "rain"}, "mark": {"type": "bar", "size": 1.8},
 "encoding": {
  "x": {"field": "d", "type": "temporal"},
  "y": {"field": "m", "type": "quantitative", "scale": {"domain": [0, 700], "range": [291, 21]}, "axis": null},
  "color": {"datum": "Monthly total", "type": "nominal", "scale": {"domain": ["Monthly total", "BH-12", "a2", "a3", "a4", "a5", "a6"], "range": ["#4472C4", "#1BA6E8", "#A5A5A5", "#FFC000", "#8FAADC", "#ED7D31", "#9E480E"]}}
 }},
{"data": {"name": "bh12"}, "mark": {"type": "line", "strokeWidth": 1.2},
 "encoding": {
  "x": {"field": "d", "type": "temporal"},
  "y": {"field": "v", "type": "quantitative", "scale": {"domain": [0, 4], "range": [291, 21]},
   "axis": {"title": "Water Level (mAOD)", "orient": "left", "values": [0, 0.5, 1, 1.5, 2, 2.5, 3, 3.5, 4], "format": ".2f", "grid": true, "gridColor": "#D9D9D9", "gridWidth": 0.8, "ticks": false, "domain": false, "labelFontSize": 6, "labelColor": "#595959", "labelFont": "Open Sans", "labelPadding": 6, "titleFontSize": 6.5, "titleColor": "#595959", "titleFont": "Open Sans", "titleFontWeight": "normal", "titlePadding": 5, "offset": -55}},
  "color": {"datum": "BH-12", "type": "nominal", "scale": {"domain": ["Monthly total", "BH-12", "a2", "a3", "a4", "a5", "a6"], "range": ["#4472C4", "#1BA6E8", "#A5A5A5", "#FFC000", "#8FAADC", "#ED7D31", "#9E480E"]}}
 }},
{"data": {"name": "rain"}, "transform": [{"fold": ["a2", "a3", "a4", "a5", "a6"], "as": ["series", "val"]}],
 "mark": {"type": "line", "strokeWidth": 1.6},
 "encoding": {
  "x": {"field": "d", "type": "temporal"},
  "y": {"field": "val", "type": "quantitative", "scale": {"domain": [0, 700], "range": [291, 21]},
   "axis": {"title": "Total Rainfall (mm)", "orient": "right", "values": [0, 100, 200, 300, 400, 500, 600, 700], "grid": false, "ticks": false, "domain": false, "labelFontSize": 6, "labelColor": "#595959", "labelFont": "Open Sans", "labelPadding": 7, "titleFontSize": 6.5, "titleColor": "#595959", "titleFont": "Open Sans", "titleFontWeight": "normal", "titleAngle": 270, "titlePadding": 5, "offset": -51.5}},
  "color": {"field": "series", "type": "nominal",
   "scale": {"domain": ["Monthly total", "BH-12", "a2", "a3", "a4", "a5", "a6"], "range": ["#4472C4", "#1BA6E8", "#A5A5A5", "#FFC000", "#8FAADC", "#ED7D31", "#9E480E"]},
   "legend": {"orient": "none", "legendX": 50, "legendY": 316, "direction": "horizontal", "columns": 7, "title": null, "symbolType": "stroke", "symbolSize": 225, "columnPadding": 5, "labelOffset": 5, "labelFontSize": 6, "labelColor": "#595959", "labelFont": "Open Sans",
    "labelExpr": "substring(datum.label,0,1) == 'a' ? substring(datum.label,1,2) + ' month antecedent' : datum.label",
    "encode": {"symbols": {"update": {
      "stroke": {"signal": "datum.value == 'Monthly total' ? '#4472C4' : substring(datum.value,0,2) == 'BH' ? '#1BA6E8' : datum.value == 'a2' ? '#A5A5A5' : datum.value == 'a3' ? '#FFC000' : datum.value == 'a4' ? '#8FAADC' : datum.value == 'a5' ? '#ED7D31' : '#9E480E'"},
      "fill": {"value": "transparent"},
      "strokeWidth": {"signal": "datum.value == 'Monthly total' ? 4 : 1.5"}}}}}
  }
 }},
{"data": {"name": "annA"}, "mark": {"type": "text", "align": "left", "baseline": "middle", "fontSize": 12.5, "font": "Open Sans", "color": "#111111"},
 "encoding": {
  "x": {"field": "d", "type": "temporal"},
  "y": {"field": "v", "type": "quantitative", "scale": {"domain": [0, 4], "range": [291, 21]}, "axis": null},
  "text": {"field": "t"}
 }}
],
"resolve": {"scale": {"y": "independent"}, "axis": {"y": "independent"}}
},
{
"width": 632, "height": 365,
"view": {"stroke": "#000000", "strokeWidth": 2},
"title": {"text": "BH-12a (3.6 mAOD)", "fontSize": 11, "font": "Open Sans", "fontWeight": "bold", "color": "#7F7F7F", "anchor": "middle", "frame": "group", "baseline": "middle", "offset": -25, "dx": -11},
"layer": [
{"data": {"name": "ticks"}, "mark": {"type": "rule", "color": "#D9D9D9", "strokeWidth": 0.8},
 "encoding": {
  "x": {"field": "d", "type": "temporal",
   "scale": {"type": "utc", "domain": [{"year": 2011, "month": 9, "date": 29, "utc": true}, {"year": 2021, "month": 7, "date": 12, "utc": true}], "range": [56, 560]},
   "axis": {"title": "Date", "values": [{"year":2011,"month":9,"date":29,"utc":true},{"year":2013,"month":2,"date":10,"utc":true},{"year":2014,"month":6,"date":25,"utc":true},{"year":2015,"month":11,"date":7,"utc":true},{"year":2017,"month":3,"date":21,"utc":true},{"year":2018,"month":8,"date":3,"utc":true},{"year":2019,"month":12,"date":16,"utc":true},{"year":2021,"month":4,"date":29,"utc":true}],
    "format": "%d %B %Y", "grid": false, "ticks": false, "domain": true, "domainColor": "#D9D9D9", "labelFontSize": 6, "labelColor": "#595959", "labelFont": "Open Sans", "labelPadding": 6, "labelOverlap": false, "labelFlush": false, "titleFontSize": 6.5, "titleColor": "#595959", "titleFont": "Open Sans", "titleFontWeight": "normal", "titlePadding": 5, "offset": -72}},
  "y": {"datum": 0, "type": "quantitative", "scale": {"domain": [0, 1], "range": [293, 20]}, "axis": null},
  "y2": {"datum": 1}
 }},
{"data": {"name": "rain"}, "mark": {"type": "bar", "size": 1.8},
 "encoding": {
  "x": {"field": "d", "type": "temporal"},
  "y": {"field": "m", "type": "quantitative", "scale": {"domain": [0, 700], "range": [293, 20]}, "axis": null},
  "color": {"datum": "Monthly total", "type": "nominal", "scale": {"domain": ["Monthly total", "BH-12a", "a2", "a3", "a4", "a5", "a6"], "range": ["#4472C4", "#1BA6E8", "#A5A5A5", "#FFC000", "#8FAADC", "#ED7D31", "#9E480E"]}}
 }},
{"data": {"name": "bh12a"}, "mark": {"type": "line", "strokeWidth": 1.5},
 "encoding": {
  "x": {"field": "d", "type": "temporal"},
  "y": {"field": "v", "type": "quantitative", "scale": {"domain": [2.5, 4.1], "range": [293, 20]},
   "axis": {"title": "Water Level (mAOD)", "orient": "left", "values": [2.5, 2.7, 2.9, 3.1, 3.3, 3.5, 3.7, 3.9, 4.1], "format": ".2f", "grid": true, "gridColor": "#D9D9D9", "gridWidth": 0.8, "ticks": false, "domain": false, "labelFontSize": 6, "labelColor": "#595959", "labelFont": "Open Sans", "labelPadding": 6, "titleFontSize": 6.5, "titleColor": "#595959", "titleFont": "Open Sans", "titleFontWeight": "normal", "titlePadding": 5, "offset": -56}},
  "color": {"datum": "BH-12a", "type": "nominal", "scale": {"domain": ["Monthly total", "BH-12a", "a2", "a3", "a4", "a5", "a6"], "range": ["#4472C4", "#1BA6E8", "#A5A5A5", "#FFC000", "#8FAADC", "#ED7D31", "#9E480E"]}}
 }},
{"data": {"name": "rain"}, "transform": [{"fold": ["a2", "a3", "a4", "a5", "a6"], "as": ["series", "val"]}],
 "mark": {"type": "line", "strokeWidth": 1.6},
 "encoding": {
  "x": {"field": "d", "type": "temporal"},
  "y": {"field": "val", "type": "quantitative", "scale": {"domain": [0, 700], "range": [293, 20]},
   "axis": {"title": "Total Rainfall (mm)", "orient": "right", "values": [0, 100, 200, 300, 400, 500, 600, 700], "grid": false, "ticks": false, "domain": false, "labelFontSize": 6, "labelColor": "#595959", "labelFont": "Open Sans", "labelPadding": 6, "titleFontSize": 6.5, "titleColor": "#595959", "titleFont": "Open Sans", "titleFontWeight": "normal", "titleAngle": 270, "titlePadding": 5, "offset": -72}},
  "color": {"field": "series", "type": "nominal",
   "scale": {"domain": ["Monthly total", "BH-12a", "a2", "a3", "a4", "a5", "a6"], "range": ["#4472C4", "#1BA6E8", "#A5A5A5", "#FFC000", "#8FAADC", "#ED7D31", "#9E480E"]},
   "legend": {"orient": "none", "legendX": 48, "legendY": 316, "direction": "horizontal", "columns": 7, "title": null, "symbolType": "stroke", "symbolSize": 225, "columnPadding": 6, "labelOffset": 5, "labelFontSize": 6, "labelColor": "#595959", "labelFont": "Open Sans",
    "labelExpr": "substring(datum.label,0,1) == 'a' ? substring(datum.label,1,2) + ' month antecedent' : datum.label",
    "encode": {"symbols": {"update": {
      "stroke": {"signal": "datum.value == 'Monthly total' ? '#4472C4' : substring(datum.value,0,2) == 'BH' ? '#1BA6E8' : datum.value == 'a2' ? '#A5A5A5' : datum.value == 'a3' ? '#FFC000' : datum.value == 'a4' ? '#8FAADC' : datum.value == 'a5' ? '#ED7D31' : '#9E480E'"},
      "fill": {"value": "transparent"},
      "strokeWidth": {"signal": "datum.value == 'Monthly total' ? 4 : 1.5"}}}}}
  }
 }},
{"data": {"name": "annB"}, "mark": {"type": "text", "align": "left", "baseline": "middle", "fontSize": 12.5, "font": "Open Sans", "color": "#111111"},
 "encoding": {
  "x": {"field": "d", "type": "temporal"},
  "y": {"field": "v", "type": "quantitative", "scale": {"domain": [2.5, 4.1], "range": [293, 20]}, "axis": null},
  "text": {"field": "t"}
 }}
],
"resolve": {"scale": {"y": "independent"}, "axis": {"y": "independent"}}
}
]
},
{
"spacing": -2,
"resolve": {"scale": {"x": "independent", "y": "independent"}},
"hconcat": [
{
"width": 591, "height": 160,
"view": {"stroke": "#000000", "strokeWidth": 2},
"data": {"name": "capA"},
"mark": {"type": "text", "align": "left", "baseline": "middle", "fontSize": 18, "font": "Open Sans", "color": "#1A1A1A"},
"encoding": {
 "x": {"datum": 0, "type": "quantitative", "scale": {"domain": [0, 1], "range": [6, 590]}, "axis": null},
 "y": {"field": "line", "type": "quantitative", "scale": {"domain": [1, 3], "range": [19.5, 88.5]}, "axis": null},
 "text": {"field": "t"}
}
},
{
"width": 632, "height": 160,
"view": {"stroke": "#000000", "strokeWidth": 2},
"data": {"name": "capB"},
"mark": {"type": "text", "align": "left", "baseline": "middle", "fontSize": 18, "font": "Open Sans", "color": "#1A1A1A"},
"encoding": {
 "x": {"datum": 0, "type": "quantitative", "scale": {"domain": [0, 1], "range": [14, 620]}, "axis": null},
 "y": {"field": "line", "type": "quantitative", "scale": {"domain": [1, 3], "range": [19.5, 88.5]}, "axis": null},
 "text": {"field": "t"}
}
}
]
}
]
}
